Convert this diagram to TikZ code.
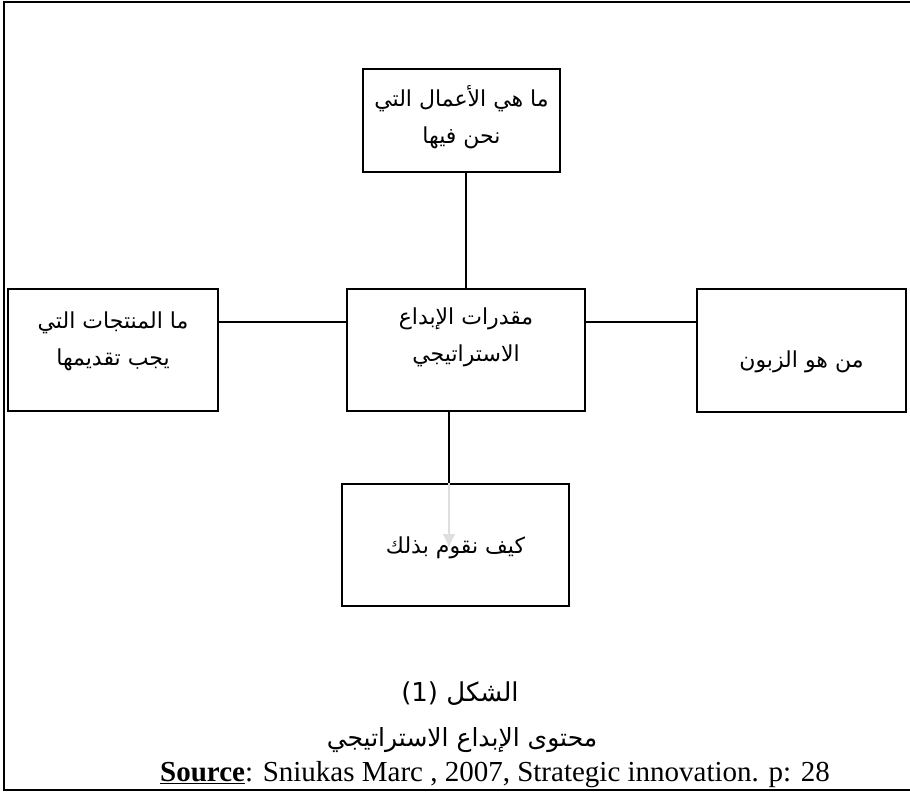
\documentclass[tikz,border=0pt]{standalone}
\usepackage{fontspec}
\setmainfont{Liberation Serif}
\newfontfamily\arabicfont[Script=Arabic]{DejaVu Sans}
\TeXXeTstate=1
\usetikzlibrary{arrows.meta}

\begin{document}
\begin{tikzpicture}[x=1pt,y=-1pt,
    box/.style={draw,line width=2pt,inner sep=0pt},
    txt/.style={align=center,inner sep=0pt,font=\arabicfont\fontsize{22}{37}\selectfont},
    link/.style={line width=2pt}]
  \useasboundingbox (0,0) rectangle (910,793);
  % frame
  \draw[line width=2.4pt] (910,2) -- (4,2) -- (4,790) -- (910,790);
  % boxes
  \node[box,minimum width=197pt,minimum height=103pt](what)at(461.5,120.5){};
  \node[box,minimum width=238pt,minimum height=122pt](core)at(466,350){};
  \node[box,minimum width=210pt,minimum height=122pt](prod)at(113,350){};
  \node[box,minimum width=209pt,minimum height=123pt](cust)at(801.5,350.5){};
  \node[box,minimum width=227pt,minimum height=122pt](how)at(455.5,545){};
  % texts
  \node[txt](what-t)at([yshift=3pt]what.center){\beginR ما هي الأعمال التي\endR\\\beginR نحن فيها\endR};
  \node[txt](core-t)at([yshift=13pt]core.center){\beginR مقدرات الإبداع\endR\\\beginR الاستراتيجي\endR};
  \node[txt](prod-t)at([yshift=9pt]prod.center){\beginR ما المنتجات التي\endR\\\beginR يجب تقديمها\endR};
  \node[txt](cust-t)at([yshift=-11pt]cust.center){\beginR من هو الزبون\endR};
  \node[txt](how-t)at([yshift=-3pt]how.center){\beginR كيف نقوم بذلك\endR};
  % links
  \draw[link] (what.south -| core.north) -- (core.north);
  \draw[link] ([yshift=28pt]core.west) -- ([yshift=28pt]core.west -| prod.east);
  \draw[link] ([yshift=28pt]core.east) -- ([yshift=28pt]core.east -| cust.west);
  \draw[link] ([xshift=-17pt]core.south) -- ([xshift=-17pt]core.south |- how.north);
  \coordinate (tip) at (449,548);
  \draw[black!13,line width=2pt,-{Latex[length=14pt,width=13pt]}] ([xshift=-17pt]core.south |- how.north) -- (tip);
  % caption
  \node[font=\arabicfont\fontsize{26}{30}\selectfont](fig)at(460,694){\beginR الشكل \beginL(1)\endL\endR};
  \node[font=\arabicfont\fontsize{25}{30}\selectfont](title)at(462,740){\beginR محتوى الإبداع الاستراتيجي\endR};
  \node[font=\fontsize{29}{32}\selectfont](src)at(495,775){\textbf{\underline{Source}}: Sniukas Marc , 2007, Strategic innovation. p: 28};
\end{tikzpicture}
\end{document}
